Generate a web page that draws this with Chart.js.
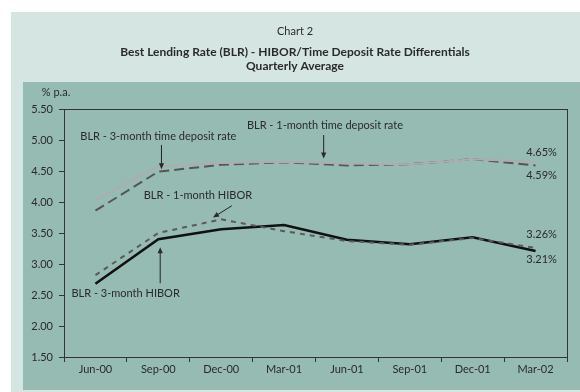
<!DOCTYPE html>
<html>
<head>
<meta charset="utf-8">
<title>Chart 2 - BLR differentials</title>
<script src="https://cdn.jsdelivr.net/npm/chart.js@4.4.1/dist/chart.umd.min.js"></script>
<style>
  body { margin: 0; background: #fff; }
  #wrap { width: 580px; height: 392px; }
</style>
</head>
<body>
<div id="wrap"><canvas id="chart"></canvas></div>
<script>
// data (% p.a., quarterly average)
const quarters = ['Jun-00', 'Sep-00', 'Dec-00', 'Mar-01', 'Jun-01', 'Sep-01', 'Dec-01', 'Mar-02'];
const blrTd1m = [4.03, 4.58, 4.63, 4.65, 4.62, 4.61, 4.69, 4.65];
const blrTd3m = [3.86, 4.49, 4.60, 4.64, 4.59, 4.61, 4.69, 4.59];
const blrHibor1m = [2.82, 3.50, 3.72, 3.53, 3.37, 3.31, 3.42, 3.26];
const blrHibor3m = [2.68, 3.40, 3.56, 3.63, 3.39, 3.32, 3.43, 3.21];
const yMin = 1.5;
const yMax = 5.5;
const yStep = 0.5;

const ink = '#2a2a2a';
Chart.defaults.font.family = 'Lato';
Chart.defaults.color = ink;

// annotation texts and arrows, placed in data coordinates (category index, value)
const notes = [
  { text: 'BLR - 1-month time deposit rate', at: [3.65, 5.24], arrow: [[3.63, 5.08], [3.63, 4.70]] },
  { text: 'BLR - 3-month time deposit rate', at: [1.0, 5.06], arrow: [[1.05, 4.92], [1.05, 4.53]] },
  { text: 'BLR - 1-month HIBOR', at: [1.63, 4.10], arrow: [[2.17, 3.94], [1.87, 3.75]] },
  { text: 'BLR - 3-month HIBOR', at: [0.48, 2.52], arrow: [[1.03, 2.69], [1.03, 3.27]] }
];

// end-of-line value labels: which series, and offset from its last point
const endLabels = [
  { data: blrTd1m, dy: -9 },
  { data: blrTd3m, dy: 10 },
  { data: blrHibor1m, dy: -13 },
  { data: blrHibor3m, dy: 8 }
];

const panels = {
  id: 'panels',
  beforeDraw(chart) {
    const c = chart.ctx;
    c.save();
    c.fillStyle = '#ffffff';
    c.fillRect(0, 0, chart.width, chart.height);
    c.fillStyle = '#d5e5e2';
    c.fillRect(11, 12, chart.width - 11, chart.height - 12);
    c.fillStyle = '#96bbb2';
    c.fillRect(23, 82, chart.width - 23, 308);
    c.restore();
  },
  afterDraw(chart) {
    const c = chart.ctx;
    const a = chart.chartArea;
    const x = chart.scales.x;
    const y = chart.scales.y;
    c.save();
    // frame
    c.strokeStyle = '#333';
    c.lineWidth = 1;
    c.strokeRect(Math.round(a.left) + 0.5, Math.round(a.top) + 0.5, Math.round(a.right - a.left), Math.round(a.bottom - a.top));

    c.fillStyle = ink;
    c.font = '11px Lato';
    c.textBaseline = 'middle';
    c.textAlign = 'center';
    c.fillText('% p.a.', 56, 92);

    notes.forEach(n => {
      c.fillText(n.text, x.getPixelForValue(n.at[0]), y.getPixelForValue(n.at[1]));
      const x0 = x.getPixelForValue(n.arrow[0][0]), y0 = y.getPixelForValue(n.arrow[0][1]);
      const x1 = x.getPixelForValue(n.arrow[1][0]), y1 = y.getPixelForValue(n.arrow[1][1]);
      const ang = Math.atan2(y1 - y0, x1 - x0);
      c.strokeStyle = '#222';
      c.lineWidth = 1;
      c.beginPath();
      c.moveTo(x0, y0);
      c.lineTo(x1 - 4 * Math.cos(ang), y1 - 4 * Math.sin(ang));
      c.stroke();
      c.beginPath();
      c.moveTo(x1, y1);
      c.lineTo(x1 - 6 * Math.cos(ang) + 2.6 * Math.sin(ang), y1 - 6 * Math.sin(ang) - 2.6 * Math.cos(ang));
      c.lineTo(x1 - 6 * Math.cos(ang) - 2.6 * Math.sin(ang), y1 - 6 * Math.sin(ang) + 2.6 * Math.cos(ang));
      c.closePath();
      c.fill();
    });

    const last = quarters.length - 1;
    endLabels.forEach(l => {
      const v = l.data[last];
      c.fillText(v.toFixed(2) + '%', x.getPixelForValue(last) + 6, y.getPixelForValue(v) + l.dy);
    });
    c.restore();
  }
};

const line = (data, color, width, dash) => ({
  data: data,
  borderColor: color,
  borderWidth: width,
  borderDash: dash,
  pointRadius: 0,
  tension: 0,
  fill: false
});

new Chart(document.querySelector('#chart'), {
  type: 'line',
  data: {
    labels: quarters,
    datasets: [
      line(blrTd1m, '#adadad', 2, []),
      line(blrTd3m, '#555555', 2, [10, 5]),
      line(blrHibor1m, '#5a5a5a', 2, [5, 5]),
      line(blrHibor3m, '#111111', 2.5, [])
    ]
  },
  options: {
    responsive: true,
    maintainAspectRatio: false,
    animation: false,
    layout: { padding: { left: 23, right: 13, top: 0, bottom: 0 } },
    plugins: {
      legend: { display: false },
      tooltip: { enabled: false },
      title: {
        display: true,
        text: 'Chart 2',
        color: ink,
        font: { size: 11, weight: 'normal', lineHeight: '13px' },
        padding: { top: 25, bottom: 5 }
      },
      subtitle: {
        display: true,
        text: ['Best Lending Rate (BLR) - HIBOR/Time Deposit Rate Differentials', 'Quarterly Average'],
        color: ink,
        font: { size: 12, weight: 'bold', lineHeight: '14px' },
        padding: { top: 2, bottom: 36 }
      }
    },
    scales: {
      x: {
        offset: true,
        afterFit(scale) { scale.height = 35; },
        grid: { offset: true, drawOnChartArea: false, tickLength: 5, color: '#333' },
        border: { color: '#333' },
        ticks: { padding: 1, maxRotation: 0, font: { size: 11 } }
      },
      y: {
        min: yMin,
        max: yMax,
        afterFit(scale) { scale.width = 41; },
        grid: { drawOnChartArea: false, tickLength: 5, color: '#333' },
        border: { color: '#333' },
        ticks: {
          stepSize: yStep,
          padding: 6,
          font: { size: 11 },
          callback: v => v.toFixed(2)
        }
      }
    }
  },
  plugins: [panels]
});
</script>
</body>
</html>
